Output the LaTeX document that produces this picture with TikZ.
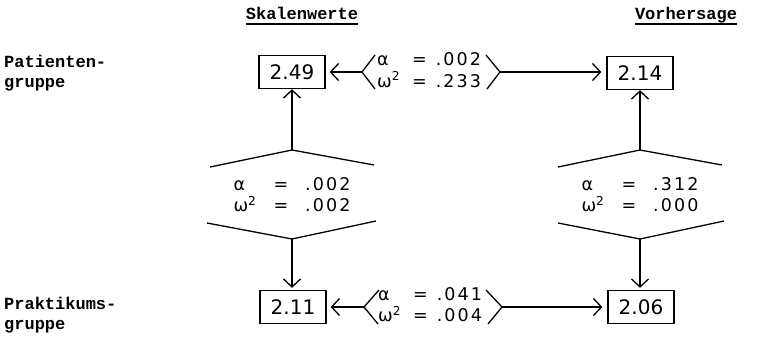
\documentclass[tikz,border=0pt]{standalone}
\usepackage{fontspec}
\setmonofont{Liberation Mono}
\newfontfamily\lett{DejaVu Sans}
\newfontfamily\lettsp[LetterSpace=12]{DejaVu Sans}
\usetikzlibrary{arrows.meta}
\newcommand\statpair[4]{\begin{tabular}{@{}l@{\hspace{#3}}c@{\hspace{#4}}l@{}}α&=&#1\\ω\textsuperscript{2}&=&#2\end{tabular}}
\begin{document}
\begin{tikzpicture}[x=1pt,y=-1pt,
  numbox/.style={draw,line width=1.3pt,minimum width=66pt,minimum height=33pt,inner sep=0pt,font=\lett\fontsize{20}{22}\selectfont},
  statt/.style={inner sep=0pt,font=\lettsp\fontsize{17.5}{20}\selectfont},
  typew/.style={inner sep=0pt,font=\ttfamily\bfseries\fontsize{17}{20}\selectfont,align=left},
  head/.style={inner sep=0pt,font=\ttfamily\bfseries\fontsize{17}{19}\selectfont},
  uline/.style={line width=2.6pt},
  ln/.style={line width=1.3pt},
  arr/.style={ln,-{Straight Barb[length=8pt,width=17pt,line width=1.3pt]}}
]
\useasboundingbox (0,0) rectangle (757,343);
% labels and headers
\node[typew,anchor=base west] (lp) at (4,87) {Patienten-\\gruppe};
\node[typew,anchor=base west] (lk) at (4,329) {Praktikums-\\gruppe};
\node[head,anchor=base] (h1) at (302,19) {Skalenwerte};
\node[head,anchor=base] (h2) at (686,19) {Vorhersage};
\draw[uline] ([yshift=-5pt]h1.base west) -- ([yshift=-5pt]h1.base east);
\draw[uline] ([yshift=-5pt]h2.base west) -- ([yshift=-5pt]h2.base east);
% boxes
\node[numbox] (b1) at (292,72) {2.49};
\node[numbox] (b2) at (640,73) {2.14};
\node[numbox] (b3) at (293,307) {2.11};
\node[numbox] (b4) at (641,307) {2.06};
% stats
\node[statt,anchor=west] (st) at (377,72.5) {\statpair{.002}{.233}{12pt}{9pt}};
\node[statt,anchor=west] (sb) at (378,307) {\statpair{.041}{.004}{12pt}{9pt}};
\node[statt] (sl) at (292,197) {\statpair{.002}{.002}{17pt}{17pt}};
\node[statt] (sr) at (640,197) {\statpair{.312}{.000}{17pt}{17pt}};
% top brackets
\coordinate (tl) at (362,72);
\coordinate (tr) at (500,72);
\draw[ln] (375,55) -- (tl) -- (375,89);
\draw[ln] (486,55) -- (tr) -- (487,89);
\draw[arr,shorten >=4pt] (tl) -- (tl -| b1.east);
\draw[arr,shorten >=5pt] (tr) -- (tr -| b2.west);
% bottom brackets
\coordinate (bl) at (364,307);
\coordinate (br) at (502,307);
\draw[ln] (379,290) -- (bl) -- (378,324);
\draw[ln] (486,290) -- (br) -- (488,324);
\draw[arr,shorten >=4pt] (bl) -- (bl -| b3.east);
\draw[arr,shorten >=5pt] (br) -- (br -| b4.west);
% left hexagon
\coordinate (la) at (292,150);
\coordinate (lb) at (292,239);
\draw[ln] (210,167) -- (la) -- (374,165);
\draw[ln] (207,223) -- (lb) -- (376,221);
\draw[arr] (la) -- (la |- b1.south);
\draw[arr,shorten >=2pt] (lb) -- (lb |- b3.north);
% right hexagon
\coordinate (ra) at (640,150);
\coordinate (rb) at (640,239);
\draw[ln] (558,167) -- (ra) -- (722,165);
\draw[ln] (558,223) -- (rb) -- (724,221);
\draw[arr] (ra) -- (ra |- b2.south);
\draw[arr,shorten >=2pt] (rb) -- (rb |- b4.north);
\end{tikzpicture}
\end{document}
